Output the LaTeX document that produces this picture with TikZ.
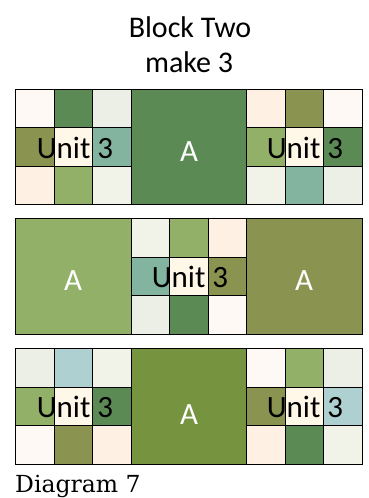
\documentclass[tikz,border=0pt]{standalone}
\usepackage{fontspec}
\setmainfont{DejaVu Serif}
\newfontfamily\quiltsans{Carlito}

% Fabric colours
\definecolor{qwhite}{HTML}{FFF9F5}
\definecolor{qdark}{HTML}{5B8A55}
\definecolor{qmist}{HTML}{ECEFE6}
\definecolor{qolive}{HTML}{8A9450}
\definecolor{qcream}{HTML}{FFF8E8}
\definecolor{qteal}{HTML}{82B4A0}
\definecolor{qpeach}{HTML}{FEF0E2}
\definecolor{qleaf}{HTML}{93B068}
\definecolor{qpale}{HTML}{F1F3E8}
\definecolor{qmoss}{HTML}{76943F}
\definecolor{qsky}{HTML}{AED0D0}

% nine-patch: left x, top y, nine colours row by row
\newcommand\ninepatch[3]{%
  \foreach \c [count=\i from 0] in {#3} {
    \pgfmathtruncatemacro\col{mod(\i,3)}
    \pgfmathtruncatemacro\row{int(\i/3)}
    \draw[cell, fill=\c] ({#1+\col*38.5},{#2+\row*38.5}) rectangle ++(38.5,38.5);
  }%
}

\begin{document}
\begin{tikzpicture}[x=1pt, y=-1pt]

% Styles
\tikzset{
  cell/.style={draw=black, line width=0.9pt},
  unitlabel/.style={font=\quiltsans\fontsize{31}{31}\selectfont, inner sep=0pt, anchor=base},
  alabel/.style={unitlabel, text=white},
  title/.style={font=\quiltsans\fontsize{30}{30}\selectfont, inner sep=0pt, anchor=base}
}

\useasboundingbox (0,0) rectangle (369,498);

% Title
\node[title] (head) at (190,37) {Block Two};
\node[title] (count) at (189,72) {make 3};

% First row
\ninepatch{15.5}{89}{qwhite,qdark,qmist,qolive,qcream,qteal,qpeach,qleaf,qpale}
\draw[cell, fill=qdark] (131,89) rectangle ++(115.5,115.5);
\ninepatch{246.5}{89}{qpeach,qolive,qwhite,qleaf,qcream,qdark,qpale,qteal,qmist}
\node[unitlabel] (unitA) at (75,158) {Unit 3};
\node[alabel] (sqA) at (189,161) {A};
\node[unitlabel] (unitB) at (305,158) {Unit 3};

% Second row
\draw[cell, fill=qleaf] (15.5,218.5) rectangle ++(115.5,115.5);
\ninepatch{131}{218.5}{qpale,qleaf,qpeach,qteal,qcream,qolive,qmist,qdark,qwhite}
\draw[cell, fill=qolive] (246.5,218.5) rectangle ++(115.5,115.5);
\node[alabel] (sqB) at (73,290) {A};
\node[unitlabel] (unitC) at (190,287.5) {Unit 3};
\node[alabel] (sqC) at (304,290) {A};

% Third row
\ninepatch{15.5}{348.5}{qmist,qsky,qpale,qleaf,qcream,qdark,qwhite,qolive,qpeach}
\draw[cell, fill=qmoss] (131,348.5) rectangle ++(115.5,115.5);
\ninepatch{246.5}{348.5}{qwhite,qleaf,qmist,qolive,qcream,qsky,qpeach,qdark,qpale}
\node[unitlabel] (unitD) at (75,417) {Unit 3};
\node[alabel] (sqD) at (189,424) {A};
\node[unitlabel] (unitE) at (305,417) {Unit 3};

% Caption
\node[font=\fontsize{23.5}{23.5}\selectfont, inner sep=0pt, anchor=base west] (cap) at (15,492) {Diagram 7};

\end{tikzpicture}
\end{document}
